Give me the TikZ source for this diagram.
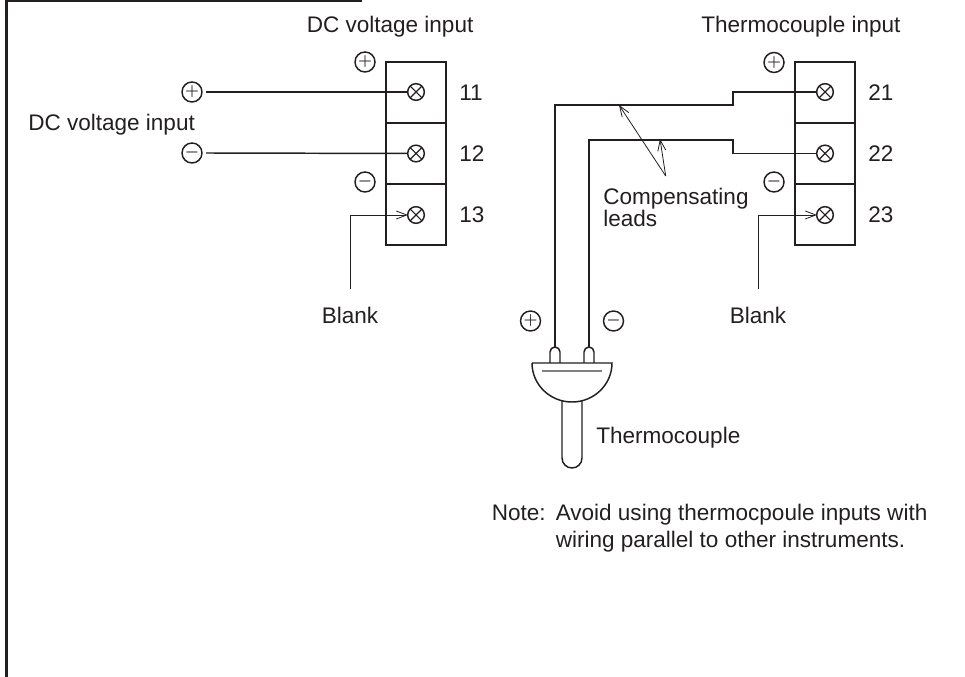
\documentclass[tikz,border=0pt]{standalone}
\usepackage{fontspec}
\setmainfont{Liberation Sans}
\usetikzlibrary{arrows.meta}
\definecolor{ink}{HTML}{231F20}

\begin{document}
\begin{tikzpicture}[x=0.75pt,y=-0.75pt,
every node/.style={inner sep=0pt, text=ink, font=\fontsize{16.9}{16.7}\selectfont},
cell/.style={draw=ink, line width=1.1pt, minimum width=45pt, minimum height=45.75pt},
terminal/.style={circle, draw=ink, fill=white, line width=1.1pt, minimum size=12.5pt,
    path picture={\draw[ink, line width=0.8pt]
        (path picture bounding box.north west) -- (path picture bounding box.south east)
        (path picture bounding box.north east) -- (path picture bounding box.south west);}},
pole/.style={circle, draw=ink, line width=1.1pt, minimum size=15pt, font=\fontsize{13}{13}\selectfont\boldmath},
label/.style={anchor=base west},
wire/.style={draw=ink, line width=1.1pt},
lead/.style={draw=ink, line width=0.6pt, -{Straight Barb[length=8pt,width=6pt]}}
]
\useasboundingbox (0,0) rectangle (965,677);

% frame
\draw[ink, line width=2.2pt] (362,0.3) -- (6.3,0.3) -- (6.3,677);

% terminal blocks
\foreach \b/\x in {1/416,2/825}{
    \foreach \n/\y in {1/92.5,2/153.5,3/214.5}{
        \node[cell] (c-\b\n) at (\x,\y) {};
        \node[label] (n-\b\n) at (\x+43,\y+8) {\b\n};
    }
}
\foreach \b/\x in {1/416,2/825}{
    \foreach \n/\y in {1/92,2/153.5,3/215}{
        \path (\x,\y) coordinate (p-\b\n);
    }
}

% poles
\node[pole] (ap) at (365,62) {$+$};
\node[pole] (am) at (365,182) {$-$};
\node[pole] (bp) at (774,62.5) {$+$};
\node[pole] (bm) at (774,182) {$-$};
\node[pole] (ip) at (192,92) {$+$};
\node[pole] (im) at (192,153) {$-$};
\node[pole] (tp) at (530.5,321) {$+$};
\node[pole] (tm) at (613.5,321) {$-$};

% labels
\node[label] (dc-a) at (306.5,32.7) {DC voltage input};
\node[label] (dc-b) at (28,130.7) {DC voltage input};
\node[label] (tc-a) at (701,32.7) {Thermocouple input};
\node[anchor=base] (bl-a) at (350,323.5) {Blank};
\node[anchor=base] (bl-b) at (758,323.5) {Blank};
\node[label] (tc-b) at (596,443.5) {Thermocouple};
\node[anchor=north west, align=left] (comp) at (603,187.5) {Compensating\\leads};
\node[label] (note) at (491.5,520.7) {Note:};
\node[anchor=north west, align=left, font=\fontsize{16.9}{20.8}\selectfont] (note-b) at (555.5,503.5) {Avoid using thermocpoule inputs with\\wiring parallel to other instruments.};

% free ends
\coordinate (s-a) at (555,348);
\coordinate (s-b) at (589,348);
\coordinate (f-a) at (350,289);
\coordinate (f-b) at (758,289);
\coordinate (g) at (665.7,176);
\coordinate (h-a) at (619,105);
\coordinate (h-b) at (660,139);

% wires
\draw[wire, shorten >=6pt] (ip) ++(14,0) -- (p-11);
\draw[wire, shorten >=6pt] (im) ++(14,0) -- (p-12);
\draw[wire] (p-21) -- ++(-92,0) -- ++(0,13) -| (s-a);
\draw[wire] (p-22) -- ++(-92,0) -- ++(0,-13.5) -| (s-b);
\foreach \i/\j in {f-a/p-13, f-b/p-23}
    \draw[lead, shorten >=6pt] (\i) |- (\j);
\foreach \j in {h-a, h-b}
    \draw[lead] (g) -- (\j);

% terminal screws
\foreach \i in {11,12,13,21,22,23}
    \node[terminal] (t-\i) at (p-\i) {};

% thermocouple
\draw[wire] (550,363) -- (550,352) arc[start angle=180, end angle=360, radius=5] -- (560,363);
\draw[wire] (584,363) -- (584,352) arc[start angle=180, end angle=360, radius=5] -- (594,363);
\draw[wire] (532,363) -- (612,363) arc[start angle=0, end angle=180, x radius=40, y radius=39];
\draw[draw=gray, line width=1pt] (542,371) -- (602,371);
\draw[wire] (562,401) -- (562,458) arc[start angle=180, end angle=0, radius=10] -- (582,401);

\end{tikzpicture}
\end{document}
